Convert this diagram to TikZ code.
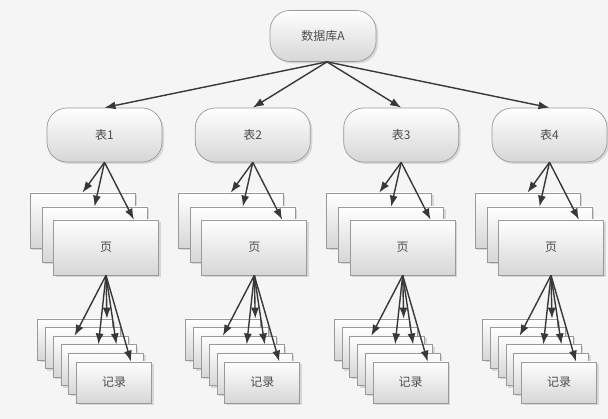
\documentclass[tikz,border=0pt]{standalone}
\usepackage{fontspec}
\newfontfamily\cjk{Noto Sans CJK SC}
\usetikzlibrary{shadows,arrows.meta}
\definecolor{inkgray}{HTML}{383838}
\tikzset{%
  box/.style = {draw=gray!80, line width=0.7pt, inner sep=0pt,
    top color=white, bottom color=black!16,
    drop shadow={opacity=0.25, shadow xshift=2pt, shadow yshift=-2pt},
    font=\cjk\fontsize{12}{14}\selectfont, text=black!70},
  tablebox/.style = {box, rounded corners=20pt,
    minimum width=115pt, minimum height=54pt},
  pagebox/.style = {box, minimum width=105pt, minimum height=55pt},
  recbox/.style = {box, minimum width=75pt, minimum height=41pt},
  link/.style = {draw=inkgray, line width=1.4pt,
    -{Latex[length=11pt,width=8pt]}}
}
\begin{document}
\begin{tikzpicture}[x=1pt, y=-1pt]
  \useasboundingbox (0,0) rectangle (608,419);
  \fill[black!4] (0,0) rectangle (608,419);
  \node[tablebox, minimum width=106pt, minimum height=51pt] (db) at (323,36) {数据库A};
  \foreach \i/\cx in {1/104.5, 2/252.8, 3/401.2, 4/549.5} {
    \node[tablebox] (t\i) at (\cx,135) {表\i};
    % stacked pages
    \node[pagebox] (p\i-a) at (\cx-22,220.5) {};
    \node[pagebox] (p\i-b) at (\cx-10,234.5) {};
    \node[pagebox] (p\i-c) at (\cx+1.5,247.5) {页};
    % stacked records
    \foreach \k in {1,...,5}
      \node[recbox] (r\i-\k) at (\cx-37.3+7.8*\k,330.9+8.6*\k) {};
    \node[recbox] (r\i-6) at (\cx+9.5,382.5) {记录};
    \draw[link] ([xshift=4pt]db.south) -- (t\i.north);
    \draw[link] (t\i.south) -- (p\i-a.north);
    \draw[link] (t\i.south) -- (p\i-b.north);
    \draw[link] (t\i.south) -- (p\i-c.45);
    \draw[link] (p\i-c.south) -- ([xshift=-16pt]r\i-3.north);
    \draw[link] (p\i-c.south) -- (r\i-4.north);
    \draw[link] (p\i-c.south) -- ([xshift=32pt]r\i-1.north);
    \draw[link] (p\i-c.south) -- ([xshift=18pt]r\i-4.north);
    \draw[link] (p\i-c.south) -- ([xshift=17pt]r\i-6.north);
  }
\end{tikzpicture}
\end{document}
